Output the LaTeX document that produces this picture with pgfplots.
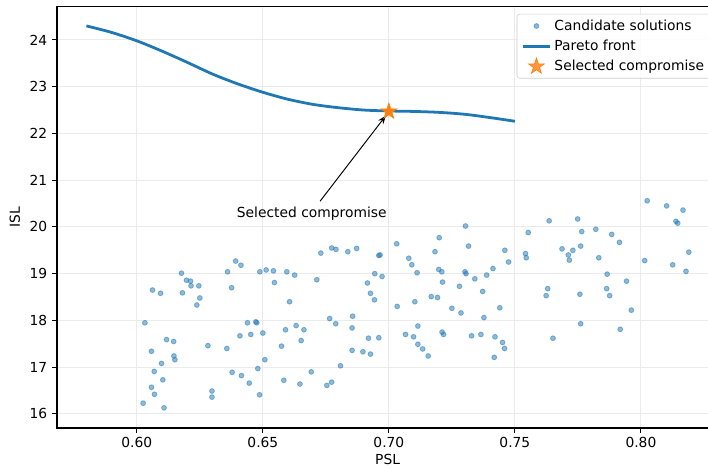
\documentclass[border=0pt]{standalone}
\usepackage{fontspec}
\setmainfont{DejaVu Sans}
\usepackage{pgfplots}
\pgfplotsset{compat=1.18}
\usetikzlibrary{arrows.meta}
\definecolor{tabblue}{HTML}{1F77B4}
\definecolor{taborange}{HTML}{FF7F0E}
\definecolor{gridgray}{HTML}{EBEBEB}

% filled five-point star, like matplotlib's '*'
\pgfdeclareplotmark{fstar}{%
  \pgfpathmoveto{\pgfpointpolar{90}{\pgfplotmarksize}}%
  \pgfpathlineto{\pgfpointpolar{126}{0.382\pgfplotmarksize}}%
  \pgfpathlineto{\pgfpointpolar{162}{\pgfplotmarksize}}%
  \pgfpathlineto{\pgfpointpolar{198}{0.382\pgfplotmarksize}}%
  \pgfpathlineto{\pgfpointpolar{234}{\pgfplotmarksize}}%
  \pgfpathlineto{\pgfpointpolar{270}{0.382\pgfplotmarksize}}%
  \pgfpathlineto{\pgfpointpolar{306}{\pgfplotmarksize}}%
  \pgfpathlineto{\pgfpointpolar{342}{0.382\pgfplotmarksize}}%
  \pgfpathlineto{\pgfpointpolar{18}{\pgfplotmarksize}}%
  \pgfpathlineto{\pgfpointpolar{54}{0.382\pgfplotmarksize}}%
  \pgfpathclose\pgfusepathqfillstroke}

\pgfplotsset{
  mylegimg/.style={legend image code/.code={%
    \draw[mark repeat=2,mark phase=2,##1] plot coordinates {(0bp,0bp)(10bp,0bp)(20bp,0bp)};}},
}

\pgfplotstableread{
psl isl
0.6062 18.65
0.6094 18.58
0.6177 19.01
0.6197 18.86
0.6213 18.84
0.6215 18.74
0.6246 18.74
0.6181 18.59
0.6250 18.48
0.6238 18.33
0.6360 19.04
0.6392 19.27
0.6413 19.18
0.6376 18.70
0.6488 19.04
0.6513 19.08
0.6032 17.95
0.6118 17.59
0.6146 17.55
0.6058 17.34
0.6147 17.24
0.6151 17.16
0.6098 17.08
0.6069 16.91
0.6103 16.73
0.6058 16.57
0.6070 16.42
0.6025 16.23
0.6108 16.13
0.6282 17.46
0.6357 17.40
0.6439 17.95
0.6472 17.97
0.6476 17.95
0.6409 17.67
0.6452 17.70
0.6500 17.73
0.6508 17.16
0.6480 16.97
0.6378 16.89
0.6415 16.82
0.6446 16.66
0.6298 16.49
0.6298 16.36
0.6487 16.41
0.6542 19.06
0.6546 18.81
0.6595 19.04
0.6626 18.97
0.6606 18.40
0.6714 18.87
0.6730 19.44
0.6773 19.55
0.6790 19.52
0.6837 19.47
0.6872 19.54
0.6960 19.39
0.6965 19.40
0.6944 19.00
0.6973 18.94
0.6915 18.80
0.6927 18.58
0.6943 18.44
0.7031 19.64
0.6590 17.80
0.6632 17.89
0.6663 17.80
0.6652 17.57
0.6574 17.45
0.6765 18.04
0.6789 17.93
0.6856 18.09
0.6854 17.84
0.6854 17.36
0.6897 17.33
0.6927 17.28
0.6919 17.62
0.6960 17.63
0.7033 18.30
0.6808 17.03
0.6692 16.90
0.6583 16.72
0.6647 16.64
0.6754 16.61
0.6773 16.68
0.7200 19.77
0.7304 20.02
0.7183 19.47
0.7316 19.59
0.7079 19.33
0.7091 19.19
0.7112 19.02
0.7198 19.09
0.7210 19.04
0.7302 19.04
0.7306 19.00
0.7213 18.82
0.7280 18.73
0.7341 18.89
0.7388 18.97
0.7413 19.11
0.7460 19.50
0.7475 19.25
0.7542 19.43
0.7545 19.34
0.7553 19.88
0.7372 18.62
0.7168 18.51
0.7193 18.49
0.7103 18.40
0.7250 18.26
0.7440 18.27
0.7286 18.16
0.7377 18.06
0.7115 17.88
0.7066 17.70
0.7098 17.65
0.7115 17.49
0.7134 17.39
0.7156 17.24
0.7211 17.75
0.7217 17.70
0.7328 17.67
0.7365 17.70
0.7421 17.65
0.7451 17.53
0.7459 17.40
0.7418 17.21
0.8025 20.56
0.8102 20.45
0.8167 20.36
0.8139 20.12
0.8146 20.08
0.7636 20.13
0.7749 20.17
0.7765 19.90
0.7821 19.95
0.7884 19.84
0.7915 19.67
0.7687 19.53
0.7730 19.50
0.7761 19.59
0.7712 19.40
0.7716 19.29
0.7833 19.34
0.8015 19.28
0.8126 19.19
0.8190 19.46
0.8179 19.05
0.7866 18.99
0.7943 18.84
0.7630 18.68
0.7624 18.53
0.7758 18.56
0.7864 18.68
0.7876 18.53
0.7651 17.62
0.7761 17.93
0.7918 17.81
0.7962 18.22
}\candidates

\pgfplotstableread{
psl isl
0.580 24.30
0.590 24.16
0.600 23.98
0.610 23.76
0.620 23.52
0.630 23.27
0.640 23.06
0.650 22.88
0.660 22.73
0.670 22.62
0.680 22.55
0.690 22.50
0.700 22.48
0.710 22.47
0.720 22.45
0.730 22.41
0.740 22.34
0.750 22.26
}\front

\begin{document}
\begin{tikzpicture}
\begin{axis}[
  scale only axis,
  width=476.1bp, height=303.6bp,
  xmin=0.5683, xmax=0.8307,
  ymin=15.7, ymax=24.72,
  xtick={0.60,0.65,0.70,0.75,0.80},
  ytick={16,17,...,24},
  xticklabel style={/pgf/number format/.cd, fixed, fixed zerofill, precision=2},
  /pgf/number format/assume math mode=true,
  tick label style={font=\fontsize{10}{12}\selectfont},
  label style={font=\fontsize{10}{12}\selectfont},
  xlabel={PSL}, ylabel={ISL},
  xlabel style={yshift=2.5bp},
  tick align=outside, tick pos=left,
  major tick length=3.5bp,
  every tick/.style={black, line width=0.8bp},
  axis line style={line width=0.8bp},
  grid=major,
  grid style={gridgray, line width=0.8bp},
  legend cell align=left,
  legend style={at={(1,1)}, anchor=north east, xshift=-5bp, yshift=-5.5bp,
    draw=black!20, rounded corners=2bp, fill=white, fill opacity=0.8, text opacity=1,
    font=\fontsize{10}{12}\selectfont, inner xsep=3bp, inner ysep=2bp,
    row sep=1.5bp},
]
\addplot[only marks, mark=*, mark size=1.75bp, tabblue, opacity=0.5, line width=0.6bp, mylegimg]
  table[x=psl, y=isl] {\candidates};
\addlegendentry{Candidate solutions}
\addplot[tabblue, line width=2bp, smooth, tension=0.5, mylegimg]
  table[x=psl, y=isl] {\front};
\addlegendentry{Pareto front}
\addplot[only marks, mark=fstar, mark size=6bp, taborange, line width=0.5bp, mylegimg]
  coordinates {(0.70,22.47)};
\addlegendentry{Selected compromise}
\draw[-{Stealth[length=6bp,width=4.5bp]}, line width=0.7bp] (axis cs:0.6727,20.55) -- (axis cs:0.6988,22.38);
\node[font=\fontsize{10}{12}\selectfont] at (axis cs:0.6694,20.29) {Selected compromise};
\end{axis}
\pgfresetboundingbox
\useasboundingbox (-41.0bp,-28.8bp) rectangle (468.7bp,308.1bp);
\end{tikzpicture}
\end{document}
